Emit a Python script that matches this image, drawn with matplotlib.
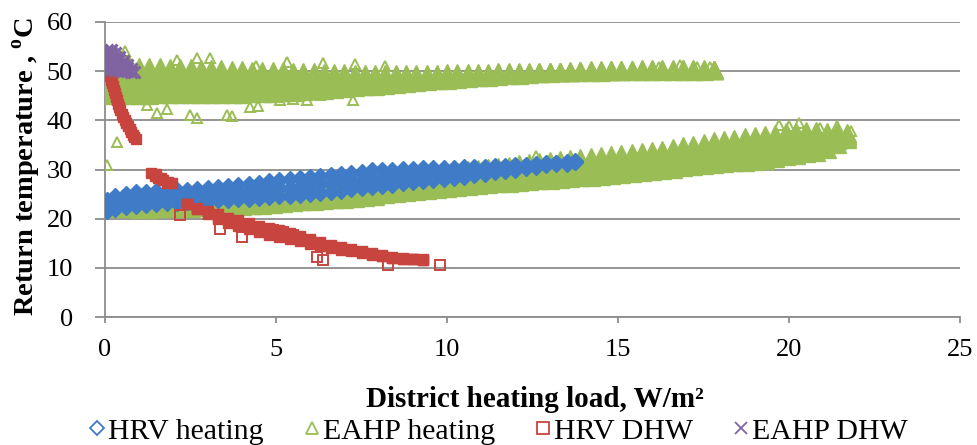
import matplotlib
matplotlib.use("Agg")
import matplotlib.pyplot as plt
from matplotlib.lines import Line2D

plt.rcParams['font.family'] = ['Liberation Serif', 'DejaVu Serif']
plt.rcParams['mathtext.fontset'] = 'custom'
plt.rcParams['mathtext.rm'] = 'Liberation Serif'
plt.rcParams['mathtext.bf'] = 'Liberation Serif:bold'

BLUE = '#3f7bc6'
GREEN = '#9bbd55'
RED = '#c8443f'
PURPLE = '#8064a2'
GRID = '#8c8c8c'

# ---- HRV heating (dense band, read as three rows of points) ----
hrv_heat_x = [0.05, 0.3, 0.6, 0.9, 1.2, 1.5, 1.8, 2.1, 2.4, 2.7, 3.0, 3.3, 3.6, 3.9, 4.2, 4.5,
              4.8, 5.1, 5.4, 5.7, 6.0, 6.3, 6.6, 6.9, 7.2, 7.5, 7.8, 8.1, 8.4, 8.7, 9.0, 9.3,
              9.6, 9.9, 10.2, 10.5, 10.8, 11.1, 11.4, 11.7, 12.0, 12.3, 12.6, 12.9, 13.2, 13.5, 13.75]
hrv_heat_top = [23.7, 24.6, 25.1, 25.4, 25.5, 25.6, 25.7, 25.8, 25.9, 26.1, 26.2, 26.4, 26.6, 26.8, 27.0, 27.3,
                27.6, 27.8, 28.0, 28.2, 28.5, 28.7, 28.9, 29.1, 29.3, 29.5, 29.8, 29.9, 30.0, 30.1, 30.2, 30.3,
                30.3, 30.4, 30.4, 30.5, 30.6, 30.6, 30.7, 30.8, 30.9, 31.0, 31.1, 31.3, 31.4, 31.6, 31.7]
hrv_heat_mid = [22.6, 23.2, 23.7, 24.0, 24.1, 24.2, 24.4, 24.5, 24.6, 24.7, 24.9, 25.0, 25.2, 25.4, 25.5, 25.7,
                26.0, 26.2, 26.3, 26.5, 26.8, 27.0, 27.2, 27.4, 27.6, 27.8, 28.1, 28.3, 28.4, 28.6, 28.8, 28.9,
                29.0, 29.2, 29.3, 29.5, 29.7, 29.8, 30.0, 30.2, 30.4, 30.6, 30.8, 31.1, 31.3, 31.4, 31.6]
hrv_heat_low = [21.6, 21.9, 22.3, 22.6, 22.8, 22.9, 23.1, 23.2, 23.3, 23.4, 23.6, 23.7, 23.8, 24.0, 24.1, 24.2,
                24.4, 24.6, 24.7, 24.9, 25.1, 25.3, 25.5, 25.7, 26.0, 26.2, 26.4, 26.7, 26.9, 27.2, 27.4, 27.6,
                27.8, 28.0, 28.3, 28.5, 28.8, 29.1, 29.4, 29.7, 30.0, 30.3, 30.6, 30.9, 31.2, 31.2, 31.5]

# ---- EAHP heating, lower band ----
eahp_low_x = [0.4, 0.7, 1.0, 1.3, 1.6, 1.9, 2.2, 2.5, 2.8, 3.1, 3.4, 3.7, 4.0, 4.3, 4.6, 4.9,
              5.2, 5.5, 5.8, 6.1, 6.4, 6.7, 7.0, 7.3, 7.6, 7.9, 8.2, 8.5, 8.8, 9.1, 9.4, 9.7,
              10.0, 10.3, 10.6, 10.9, 11.2, 11.5, 11.8, 12.1, 12.4, 12.7, 13.0, 13.3, 13.6, 13.9, 14.2, 14.5,
              14.8, 15.1, 15.4, 15.7, 16.0, 16.3, 16.6, 16.9, 17.2, 17.5, 17.8, 18.1, 18.4, 18.7, 19.0, 19.3,
              19.6, 19.9, 20.2, 20.5, 20.8, 21.1, 21.4, 21.7]
eahp_low_r1 = [22.2, 22.1, 22.0, 22.0, 22.1, 22.1, 22.1, 22.2, 22.3, 22.3, 22.4, 22.5, 22.6, 22.7, 22.8, 23.0,
               23.1, 23.3, 23.5, 23.6, 23.8, 24.0, 24.1, 24.3, 24.5, 24.7, 25.0, 25.2, 25.4, 25.7, 25.9, 26.1,
               26.3, 26.5, 26.7, 26.8, 27.0, 27.2, 27.3, 27.5, 27.6, 27.8, 27.9, 28.1, 28.2, 28.4, 28.5, 28.7,
               28.8, 29.1, 29.2, 29.5, 29.7, 30.0, 30.2, 30.5, 30.7, 31.0, 31.2, 31.3, 31.5, 31.6, 31.7, 32.0,
               32.4, 32.7, 33.0, 33.3, 33.6, 34.2, 35.2, 36.3]
eahp_low_r2 = [22.4, 22.4, 22.3, 22.4, 22.5, 22.5, 22.6, 22.7, 22.8, 22.9, 23.0, 23.1, 23.3, 23.4, 23.5, 23.7,
               23.9, 24.1, 24.3, 24.4, 24.6, 24.8, 25.0, 25.2, 25.4, 25.6, 25.9, 26.1, 26.3, 26.6, 26.8, 27.0,
               27.3, 27.5, 27.7, 27.9, 28.1, 28.3, 28.5, 28.7, 28.8, 29.0, 29.2, 29.4, 29.5, 29.7, 29.8, 30.0,
               30.2, 30.5, 30.6, 30.8, 31.0, 31.3, 31.6, 31.9, 32.1, 32.5, 32.7, 32.9, 33.1, 33.3, 33.4, 33.7,
               34.0, 34.3, 34.6, 34.8, 35.0, 35.4, 36.0, 36.7]
eahp_low_r3 = [22.5, 22.6, 22.7, 22.8, 22.8, 23.0, 23.0, 23.2, 23.4, 23.5, 23.6, 23.8, 23.9, 24.1, 24.3, 24.4,
               24.6, 24.8, 25.0, 25.3, 25.5, 25.7, 25.9, 26.1, 26.4, 26.6, 26.9, 27.1, 27.3, 27.6, 27.8, 28.0,
               28.2, 28.5, 28.8, 29.0, 29.3, 29.5, 29.6, 29.9, 30.1, 30.3, 30.4, 30.6, 30.8, 31.0, 31.2, 31.4,
               31.5, 31.8, 32.0, 32.2, 32.4, 32.7, 33.0, 33.3, 33.6, 33.9, 34.2, 34.5, 34.7, 34.9, 35.1, 35.4,
               35.7, 36.0, 36.1, 36.3, 36.4, 36.6, 36.8, 37.0]
eahp_low_r4 = [22.7, 22.9, 23.0, 23.1, 23.2, 23.4, 23.5, 23.7, 23.9, 24.1, 24.2, 24.4, 24.6, 24.8, 25.0, 25.1,
               25.4, 25.6, 25.8, 26.1, 26.3, 26.6, 26.8, 27.0, 27.3, 27.5, 27.8, 28.0, 28.2, 28.5, 28.7, 29.0,
               29.2, 29.5, 29.8, 30.1, 30.4, 30.6, 30.8, 31.1, 31.3, 31.5, 31.7, 31.9, 32.1, 32.3, 32.5, 32.7,
               32.9, 33.2, 33.3, 33.5, 33.7, 34.0, 34.4, 34.7, 35.0, 35.4, 35.8, 36.1, 36.3, 36.6, 36.8, 37.1,
               37.3, 37.6, 37.7, 37.8, 37.8, 37.7, 37.6, 37.4]

# ---- EAHP heating, upper band ----
eahp_high_x = [0.1, 0.4, 0.7, 1.0, 1.3, 1.6, 1.9, 2.2, 2.5, 2.8, 3.1, 3.4, 3.7, 4.0, 4.3, 4.6,
               4.9, 5.2, 5.5, 5.8, 6.1, 6.4, 6.7, 7.0, 7.3, 7.6, 7.9, 8.2, 8.5, 8.8, 9.1, 9.4,
               9.7, 10.0, 10.3, 10.6, 10.9, 11.2, 11.5, 11.8, 12.1, 12.4, 12.7, 13.0, 13.3, 13.6, 13.9, 14.2,
               14.5, 14.8, 15.1, 15.4, 15.7, 16.0, 16.3, 16.6, 16.9, 17.2, 17.5, 17.8]
eahp_high_r1 = [45.1, 45.1, 45.2, 45.2, 45.2, 45.3, 45.3, 45.3, 45.3, 45.3, 45.3, 45.3, 45.4, 45.4, 45.5, 45.5,
                45.6, 45.7, 45.8, 45.9, 46.1, 46.2, 46.4, 46.5, 46.7, 46.9, 47.0, 47.2, 47.4, 47.6, 47.8, 47.9,
                48.1, 48.3, 48.4, 48.6, 48.8, 48.9, 49.1, 49.2, 49.3, 49.5, 49.6, 49.7, 49.8, 49.9, 49.9, 49.9,
                49.9, 50.0, 50.0, 50.1, 50.1, 50.1, 50.1, 50.0, 50.1, 50.1, 50.1, 50.2]
eahp_high_r2 = [47.3, 47.2, 47.2, 47.1, 47.1, 47.1, 47.1, 47.1, 47.1, 47.0, 47.0, 47.0, 47.0, 47.0, 47.0, 47.0,
                47.1, 47.1, 47.2, 47.2, 47.3, 47.4, 47.5, 47.5, 47.6, 47.8, 47.8, 47.9, 48.1, 48.2, 48.3, 48.4,
                48.6, 48.7, 48.8, 49.0, 49.1, 49.2, 49.3, 49.4, 49.5, 49.6, 49.7, 49.8, 49.8, 49.9, 50.0, 50.0,
                50.0, 50.1, 50.1, 50.2, 50.2, 50.2, 50.2, 50.2, 50.2, 50.2, 50.2, 50.2]
eahp_high_r3 = [49.5, 49.3, 49.2, 49.0, 48.9, 49.0, 48.9, 48.9, 48.8, 48.8, 48.8, 48.7, 48.7, 48.6, 48.6, 48.6,
                48.5, 48.6, 48.5, 48.5, 48.6, 48.5, 48.6, 48.6, 48.6, 48.6, 48.6, 48.7, 48.7, 48.8, 48.9, 49.0,
                49.0, 49.2, 49.2, 49.3, 49.4, 49.4, 49.6, 49.6, 49.6, 49.7, 49.8, 49.8, 49.9, 49.9, 50.0, 50.1,
                50.1, 50.2, 50.2, 50.2, 50.3, 50.3, 50.3, 50.3, 50.4, 50.3, 50.3, 50.3]
eahp_high_r4 = [51.7, 51.4, 51.2, 50.9, 50.8, 50.8, 50.7, 50.7, 50.6, 50.5, 50.5, 50.4, 50.3, 50.2, 50.1, 50.1,
                50.0, 50.0, 49.9, 49.8, 49.8, 49.7, 49.7, 49.6, 49.5, 49.5, 49.4, 49.4, 49.4, 49.4, 49.4, 49.5,
                49.5, 49.6, 49.6, 49.7, 49.7, 49.7, 49.8, 49.8, 49.8, 49.8, 49.9, 49.9, 49.9, 50.0, 50.1, 50.2,
                50.2, 50.3, 50.3, 50.3, 50.4, 50.4, 50.4, 50.5, 50.5, 50.4, 50.4, 50.3]

# scattered EAHP heating points drawn as open triangles
eahp_out_x = [0.05, 0.35, 1.22, 1.51, 1.8, 2.49, 2.68, 3.56, 3.7, 4.24, 4.48, 5.12, 5.5, 5.9, 6.29, 7.26,
              0.58, 2.1, 2.68, 3.07, 4.4, 5.31, 6.37, 7.3, 8.2, 16.2, 16.8, 17.3, 17.7, 12.6,
              19.7, 20.0, 20.3, 21.4, 21.8, 20.9]
eahp_out_y = [31.0, 35.5, 43.1, 41.4, 42.4, 41.1, 40.4, 41.1, 40.8, 42.8, 43.0, 44.1, 44.3, 44.2, 45.2, 44.1,
              54.0, 52.2, 52.6, 52.6, 51.1, 51.9, 51.6, 51.4, 51.0, 50.9, 51.3, 50.8, 50.8, 32.8,
              39.0, 38.8, 39.5, 38.8, 37.8, 38.5]

# ---- HRV DHW ----
hrv_dhw_steep_x = [0.1, 0.13, 0.16, 0.19, 0.22, 0.25, 0.28, 0.31, 0.34, 0.37, 0.41, 0.45, 0.49, 0.53, 0.57,
                   0.62, 0.67, 0.72, 0.77, 0.82, 0.86, 0.9]
hrv_dhw_steep_y = [49.6, 49.0, 48.3, 47.6, 46.9, 46.2, 45.5, 44.8, 44.1, 43.4, 42.7, 42.0, 41.3, 40.6, 40.0,
                   39.4, 38.8, 38.2, 37.6, 37.1, 36.6, 36.2]
hrv_dhw_knee_x = [1.35, 1.45, 1.5, 1.55, 1.65, 1.7, 1.8, 1.85, 1.95]
hrv_dhw_knee_y = [29.3, 28.6, 29.0, 28.3, 28.3, 27.9, 27.3, 27.5, 27.2]
hrv_dhw_x = [2.4, 2.7, 3.0, 3.3, 3.6, 3.9, 4.2, 4.5, 4.8, 5.1, 5.4, 5.7, 6.0, 6.3, 6.6, 6.9,
             7.2, 7.5, 7.8, 8.1, 8.4, 8.7, 9.0, 9.3]
hrv_dhw_top = [23.0, 22.2, 21.5, 20.9, 20.2, 19.7, 19.2, 18.6, 18.1, 17.6, 17.1, 16.5, 15.9, 15.3, 14.7, 14.3,
               13.9, 13.4, 13.0, 12.6, 12.2, 12.0, 11.8, 11.6]
hrv_dhw_mid = [23.0, 22.0, 21.2, 20.4, 19.7, 19.1, 18.5, 17.9, 17.4, 17.0, 16.5, 16.0, 15.4, 14.8, 14.4, 14.0,
               13.6, 13.2, 12.9, 12.5, 12.1, 11.9, 11.8, 11.6]
hrv_dhw_low = [23.0, 21.9, 21.0, 20.0, 19.1, 18.5, 17.8, 17.2, 16.7, 16.3, 15.9, 15.5, 14.9, 14.4, 14.0, 13.7,
               13.4, 13.1, 12.7, 12.4, 12.0, 11.9, 11.8, 11.7]
hrv_dhw_out_x = [2.19, 3.36, 4.0, 4.92, 5.2, 5.5, 6.2, 6.38, 8.28, 9.8]
hrv_dhw_out_y = [20.7, 18.0, 16.3, 17.7, 17.3, 16.7, 12.3, 11.6, 10.6, 10.6]

# ---- EAHP DHW ----
eahp_dhw_x = [0.05, 0.05, 0.05, 0.05, 0.05, 0.05, 0.05,
              0.17, 0.17, 0.17, 0.17, 0.17, 0.17, 0.17,
              0.29, 0.29, 0.29, 0.29, 0.29, 0.29,
              0.41, 0.41, 0.41, 0.41, 0.41,
              0.53, 0.53, 0.53, 0.53,
              0.65, 0.65, 0.65,
              0.77, 0.77, 0.86]
eahp_dhw_y = [50.4, 51.0, 51.7, 52.3, 53.0, 53.6, 54.3,
              50.4, 51.0, 51.7, 52.3, 53.0, 53.6, 54.3,
              50.3, 51.0, 51.6, 52.3, 52.9, 53.6,
              50.2, 50.9, 51.5, 52.2, 52.8,
              50.1, 50.8, 51.4, 52.0,
              50.0, 50.6, 51.2,
              49.9, 50.5, 49.9]

labels = ['HRV heating', 'EAHP heating', 'HRV DHW', 'EAHP DHW']

fig = plt.figure(figsize=(9.78, 4.45), dpi=100)
ax = fig.add_axes([0.1074, 0.2876, 0.8742, 0.663])


def dots(x, y, marker, color, ms, z, hollow=False, mew=1.0):
    ax.plot(x, y, ls='none', marker=marker, ms=ms, mec=color,
            mfc='none' if hollow else color, mew=mew, zorder=z)


for row in (eahp_low_r1, eahp_low_r2, eahp_low_r3, eahp_low_r4):
    dots(eahp_low_x, row, '^', GREEN, 12.5, 3)
for row in (eahp_high_r1, eahp_high_r2, eahp_high_r3, eahp_high_r4):
    dots(eahp_high_x, row, '^', GREEN, 12.5, 3)
dots(eahp_out_x, eahp_out_y, '^', GREEN, 6.5, 3, hollow=True, mew=1.4)

for row in (hrv_heat_top, hrv_heat_mid, hrv_heat_low):
    dots(hrv_heat_x, row, 'D', BLUE, 8, 4)

dots(hrv_dhw_steep_x, hrv_dhw_steep_y, 's', RED, 7.5, 5)
dots(hrv_dhw_knee_x, hrv_dhw_knee_y, 's', RED, 7.5, 5)
for row in (hrv_dhw_top, hrv_dhw_mid, hrv_dhw_low):
    dots(hrv_dhw_x, row, 's', RED, 7.5, 5)
dots(hrv_dhw_out_x, hrv_dhw_out_y, 's', RED, 6.5, 5, hollow=True, mew=1.4)

dots(eahp_dhw_x, eahp_dhw_y, 'x', PURPLE, 8, 6, mew=2.2)

ax.set_xlim(0, 25)
ax.set_ylim(0, 60)
ax.set_xticks(range(0, 26, 5))
ax.set_yticks(range(0, 61, 10))
ax.grid(axis='y', color=GRID, lw=1.3, zorder=0)
ax.set_axisbelow(True)
for side in ('top', 'right'):
    ax.spines[side].set_visible(False)
for side in ('left', 'bottom'):
    ax.spines[side].set_color(GRID)
    ax.spines[side].set_linewidth(1.3)
ax.tick_params(axis='y', direction='out', length=7.2, width=1.3, color=GRID, pad=16, labelsize=19)
ax.tick_params(axis='x', direction='out', length=4.5, width=1.3, color=GRID, pad=11, labelsize=19)

ax.set_xlabel('District heating load, W/m²', fontsize=21, fontweight='bold')
ax.xaxis.set_label_coords(0.503, -0.235)
ax.set_ylabel(r'Return temperature , $^{\mathbf{o}}$C', fontsize=20.5, fontweight='bold')
ax.yaxis.set_label_coords(-0.072, 0.51)

handles = [
    Line2D([], [], ls='none', marker='D', ms=7.5, mfc='none', mec=BLUE, mew=1.3),
    Line2D([], [], ls='none', marker='^', ms=9, mfc='none', mec=GREEN, mew=1.3),
    Line2D([], [], ls='none', marker='s', ms=8.5, mfc='none', mec=RED, mew=1.3),
    Line2D([], [], ls='none', marker='x', ms=9, mfc='none', mec=PURPLE, mew=1.3),
]
fig.legend(handles, labels, loc='center', bbox_to_anchor=(0.51, 0.031), ncol=4, frameon=False,
           fontsize=21.5, handlelength=0.5, handletextpad=0.12, columnspacing=1.35)

fig.savefig('out.png', dpi=100)
